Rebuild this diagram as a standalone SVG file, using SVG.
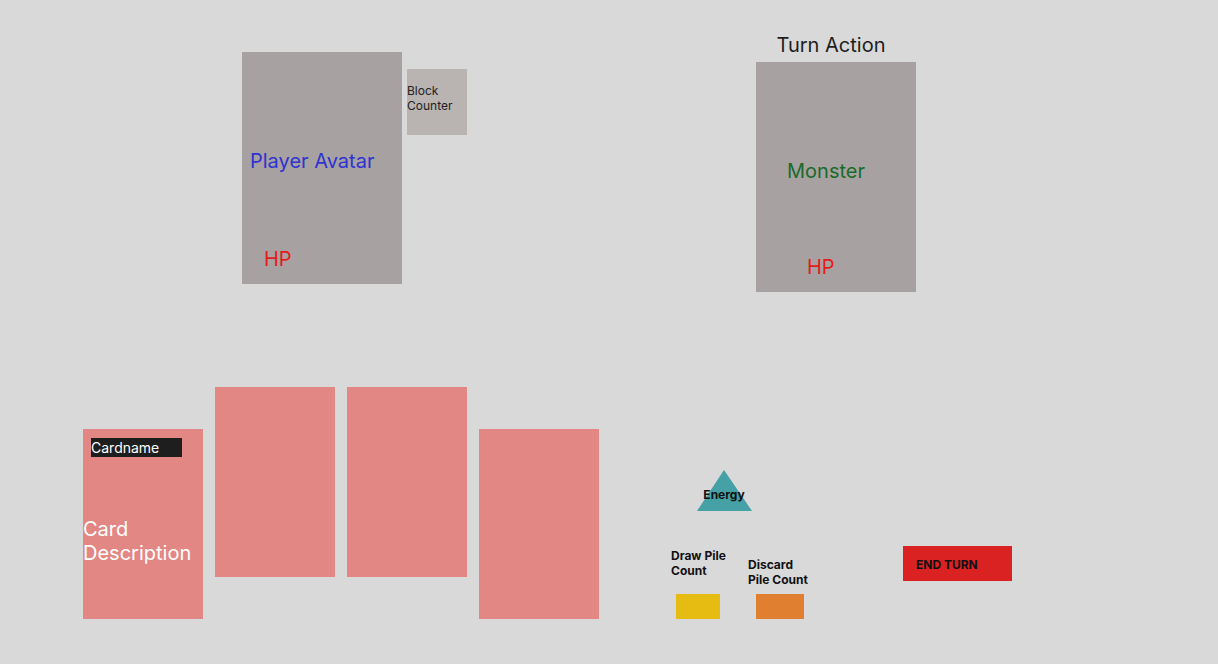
<svg xmlns="http://www.w3.org/2000/svg" width="1218" height="664" viewBox="0 0 1218 664">
<style>
text{font-family:Inter,"Noto Sans",sans-serif}
.box{fill:#a7a2a1}
.card{fill:#e38784}
.big{font-size:20px}
.b{font-weight:bold;font-size:12px;fill:#111}
</style>
<rect width="1218" height="664" fill="#d9d9d9"/>
<g id="player">
<rect class="box" x="242" y="52" width="160" height="232"/>
<text class="big" x="250" y="168" fill="#2f33cf">Player Avatar</text>
<text class="big" x="264" y="266" fill="#e31b1b">HP</text>
</g>
<g id="block-counter">
<rect x="407" y="69" width="60" height="66" fill="#b9b3b2"/>
<text x="407" y="95" font-size="12" fill="#222">Block</text>
<text x="407" y="110" font-size="12" fill="#222">Counter</text>
</g>
<g id="monster">
<text class="big" x="831" y="52" text-anchor="middle" fill="#1e1e1e">Turn Action</text>
<rect class="box" x="756" y="62" width="160" height="230"/>
<text class="big" x="787" y="178" fill="#1a6a2a">Monster</text>
<text class="big" x="807" y="274" fill="#e31b1b">HP</text>
</g>
<g id="card1">
<rect class="card" x="83" y="429" width="120" height="190"/>
<rect x="91" y="438" width="91" height="19" fill="#1e1e1e"/>
<text x="91" y="453" font-size="14" fill="#fff">Cardname</text>
<text class="big" x="83" y="536" fill="#fff">Card</text>
<text class="big" x="83" y="560" fill="#fff">Description</text>
</g>
<g id="card2"><rect class="card" x="215" y="387" width="120" height="190"/></g>
<g id="card3"><rect class="card" x="347" y="387" width="120" height="190"/></g>
<g id="card4"><rect class="card" x="479" y="429" width="120" height="190"/></g>
<g id="energy">
<polygon points="724,470 752,511 697,511" fill="#45a1a6"/>
<text class="b" x="724" y="499" text-anchor="middle" font-size="11">Energy</text>
</g>
<g id="draw-pile">
<text class="b" x="671" y="560">Draw Pile</text>
<text class="b" x="671" y="575">Count</text>
<rect x="676" y="594" width="44" height="25" fill="#e6bb12"/>
</g>
<g id="discard-pile">
<text class="b" x="748" y="569">Discard</text>
<text class="b" x="748" y="584">Pile Count</text>
<rect x="756" y="594" width="48" height="25" fill="#e07f30"/>
</g>
<g id="end-turn">
<rect x="903" y="546" width="109" height="35" fill="#da2222"/>
<text class="b" x="916" y="569">END TURN</text>
</g>
<g id="connectors"></g>
</svg>
